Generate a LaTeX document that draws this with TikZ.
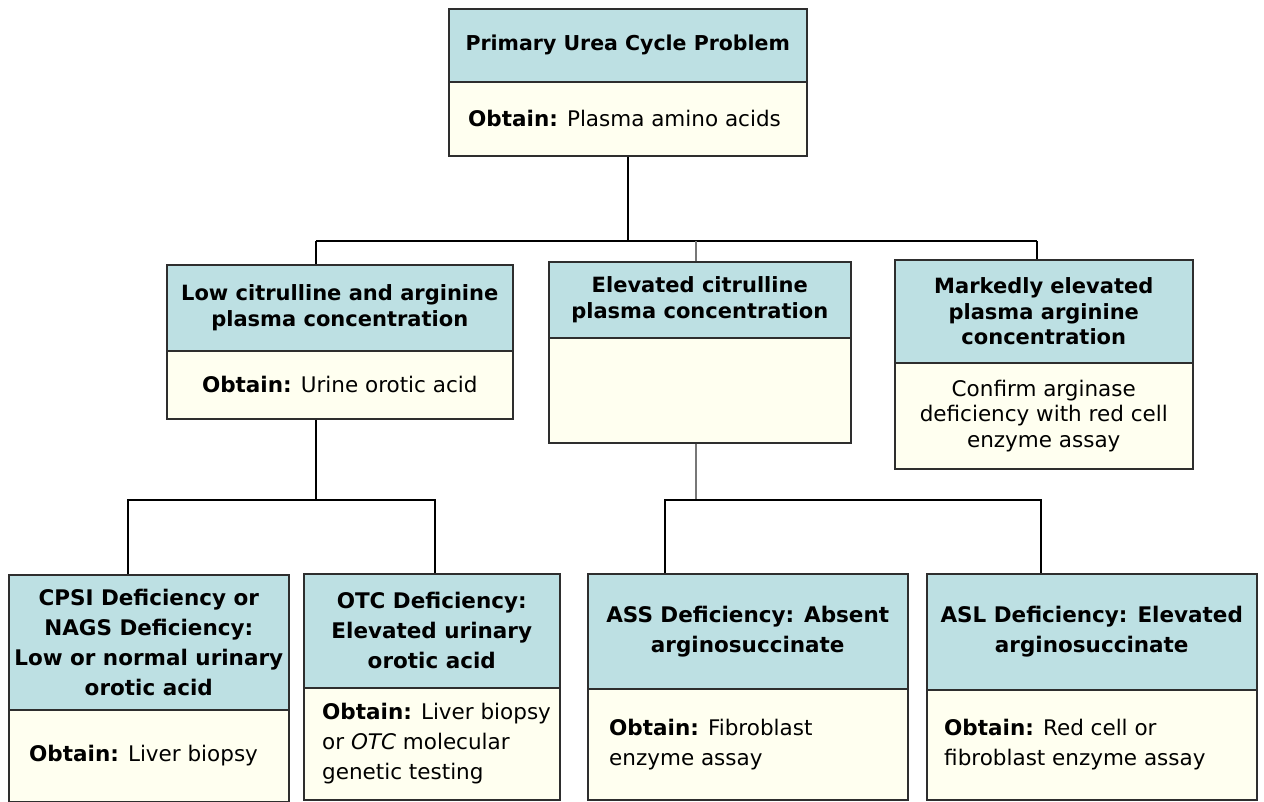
\documentclass[tikz,border=0pt]{standalone}
\usepackage{fontspec}
\setmainfont{DejaVu Sans}
\definecolor{hdrblue}{HTML}{BDE0E3}
\definecolor{bodyivory}{HTML}{FFFFF0}
\definecolor{edge}{HTML}{2E2E2E}
\definecolor{midgray}{HTML}{777777}
\newcommand\hdrtop{\fontsize{20.5}{25}\selectfont\bfseries}
\newcommand\hdrmid{\fontsize{21}{25.5}\selectfont\bfseries}
\newcommand\hdrlow{\fontsize{21.5}{30}\selectfont\bfseries}
\newcommand\bodymid{\fontsize{21.5}{25.5}\selectfont}
\newcommand\bodylow{\fontsize{21.5}{30}\selectfont}
\tikzset{
  hdr/.style={draw=edge, fill=hdrblue, line width=1.5pt, font=\hdrmid, align=center, inner sep=0pt, anchor=north west},
  bdy/.style={draw=edge, fill=bodyivory, line width=1.5pt, font=\bodymid, align=center, inner sep=0pt, anchor=north west},
  btxt/.style={font=\bodylow, align=left, inner sep=0pt, anchor=west},
  link/.style={draw=black, line width=1.5pt},
  mlink/.style={draw=midgray, line width=2pt},
}
\begin{document}
\begin{tikzpicture}[x=1pt,y=-1pt]
\useasboundingbox[fill=white] (0,0) rectangle (1264,801);

% top box
\node[hdr, font=\hdrtop, minimum width=358pt, minimum height=73pt] (top) at (448,8) {Primary Urea Cycle Problem};
\node[bdy, minimum width=358pt, minimum height=74pt] (topb) at (448,81) {};
\node[btxt, font=\bodymid] (topt) at ([xshift=20pt]topb.west) {\textbf{Obtain:} Plasma amino acids};

% middle row
\node[hdr, minimum width=346pt, minimum height=86pt] (low) at (166,264) {Low citrulline and arginine\\plasma concentration};
\node[bdy, minimum width=346pt, minimum height=68pt] (lowb) at (166,350) {\textbf{Obtain:} Urine orotic acid};

\node[hdr, minimum width=302pt, minimum height=76pt] (mid) at (548,261) {Elevated citrulline\\plasma concentration};
\node[bdy, minimum width=302pt, minimum height=105pt] (midb) at (548,337) {};

\node[hdr, minimum width=298pt, minimum height=103pt] (mark) at (894,259) {Markedly elevated\\plasma arginine\\concentration};
\node[bdy, minimum width=298pt, minimum height=106pt] (markb) at (894,362) {Confirm arginase\\deficiency with red cell\\enzyme assay};

% bottom row
\node[hdr, font=\hdrlow, minimum width=280pt, minimum height=135pt] (cpsi) at (8,574) {CPSI Deficiency or\\NAGS Deficiency:\\Low or normal urinary\\orotic acid};
\node[bdy, minimum width=280pt, minimum height=92pt] (cpsib) at (8,709) {};
\node[btxt] (cpsit) at ([xshift=21pt]cpsib.west) {\textbf{Obtain:} Liver biopsy};

\node[hdr, font=\hdrlow, minimum width=256pt, minimum height=114pt] (otc) at (303,573) {OTC Deficiency:\\Elevated urinary\\orotic acid};
\node[bdy, minimum width=256pt, minimum height=112pt] (otcb) at (303,687) {};
\node[btxt] (otct) at ([xshift=19pt]otcb.west) {\textbf{Obtain:} Liver biopsy\\or \textit{OTC} molecular\\genetic testing};

\node[hdr, font=\hdrlow, minimum width=320pt, minimum height=115pt] (ass) at (587,573) {ASS Deficiency: Absent\\arginosuccinate};
\node[bdy, minimum width=320pt, minimum height=111pt] (assb) at (587,688) {};
\node[btxt] (asst) at ([xshift=22pt]assb.west) {\textbf{Obtain:} Fibroblast\\enzyme assay};

\node[hdr, font=\hdrlow, minimum width=330pt, minimum height=116pt] (asl) at (926,573) {ASL Deficiency: Elevated\\arginosuccinate};
\node[bdy, minimum width=330pt, minimum height=110pt] (aslb) at (926,689) {};
\node[btxt] (aslt) at ([xshift=18pt]aslb.west) {\textbf{Obtain:} Red cell or\\fibroblast enzyme assay};

% connectors, first level
\coordinate (busL) at (316,241);
\coordinate (busM) at (696,241);
\coordinate (busR) at (1037,241);
\draw[link] (topb.south) -- (topb.south |- busL);
\draw[link] (busL) -- (busR);
\draw[link] (busL) -- (busL |- low.north);
\draw[mlink] (busM) -- (busM |- mid.north);
\draw[link] (busR) -- (busR |- mark.north);

% connectors, second level
\coordinate (lowj) at (316,500);
\coordinate (b1) at (128,500);
\coordinate (b2) at (435,500);
\draw[link] (lowj |- lowb.south) -- (lowj);
\draw[link] (b1 |- cpsi.north) -- (b1) -- (b2) -- (b2 |- otc.north);

\coordinate (midj) at (696,500);
\coordinate (b3) at (665,500);
\coordinate (b4) at (1041,500);
\draw[mlink] (midj |- midb.south) -- (midj);
\draw[link] (b3 |- ass.north) -- (b3) -- (b4) -- (b4 |- asl.north);
\end{tikzpicture}
\end{document}
